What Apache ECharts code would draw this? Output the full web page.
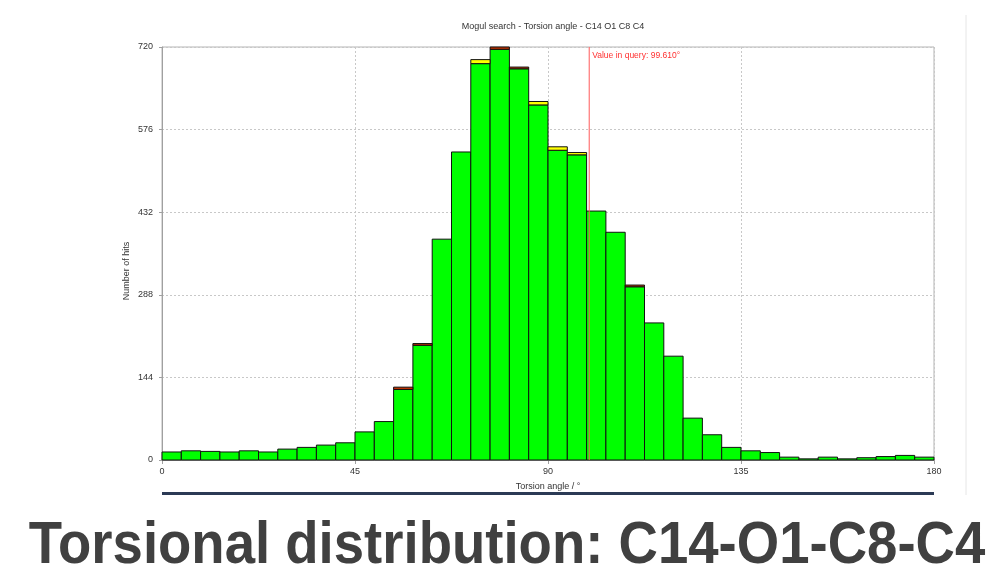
<!DOCTYPE html>
<html>
<head>
<meta charset="utf-8">
<script src="https://cdn.jsdelivr.net/npm/echarts@6/dist/echarts.min.js"></script>
<style>
html,body{margin:0;padding:0;background:#fff;}
#chart{width:991px;height:576px;}
</style>
</head>
<body>
<div id="chart"></div>
<script>
// ---- data ----
const titleText = 'Mogul search - Torsion angle - C14 O1 C8 C4';
const captionText = 'Torsional distribution: C14-O1-C8-C4';
const xAxisName = 'Torsion angle / °';
const yAxisName = 'Number of hits';
const binStart = 0;
const binWidth = 4.5;
// main (green) counts per 4.5° bin, 0..180
const greenCounts = [14, 16, 15, 14, 16, 14, 19, 22, 26, 30,
                     49, 67, 123, 200, 385, 537, 691, 716, 682, 619,
                     540, 532, 434, 397, 302, 239, 181, 73, 44, 22,
                     16, 13, 5, 2, 5, 2, 4, 6, 8, 5];
// thin dark-red caps
const redCounts =   [0, 0, 0, 0, 0, 0, 0, 0, 0, 0,
                     0, 0, 4, 3, 0, 0, 0, 4, 3, 0,
                     0, 0, 0, 0, 3, 0, 0, 0, 0, 0,
                     0, 0, 0, 0, 0, 0, 0, 0, 0, 0];
// thin yellow caps
const yellowCounts = [0, 0, 0, 0, 0, 0, 0, 0, 0, 0,
                      0, 0, 0, 0, 0, 0, 7, 0, 0, 6,
                      6, 4, 0, 0, 0, 0, 0, 0, 0, 0,
                      0, 0, 0, 0, 0, 0, 0, 0, 0, 0];
const queryValue = 99.610;
const yTicks = [0, 144, 288, 432, 576, 720];
const xTicks = [0, 45, 90, 135, 180];

// ---- build stacked rectangles ----
function buildLayer(vals, bases) {
  const out = [];
  vals.forEach((v, i) => {
    const x0 = binStart + i * binWidth;
    out.push([x0, x0 + binWidth, bases[i], bases[i] + v]);
  });
  return out;
}
const base0 = greenCounts.map(() => 0);
const base1 = greenCounts.slice();
const base2 = greenCounts.map((g, i) => g + redCounts[i]);
const greenData = buildLayer(greenCounts, base0);
const redData = buildLayer(redCounts, base1);
const yellowData = buildLayer(yellowCounts, base2);

function rectRenderer(fill) {
  return function (params, api) {
    const x0 = api.value(0), x1 = api.value(1), y0 = api.value(2), y1 = api.value(3);
    if (y1 <= y0) return null;
    const p0 = api.coord([x0, y0]);
    const p1 = api.coord([x1, y1]);
    return {
      type: 'rect',
      shape: { x: p0[0], y: p1[1], width: p1[0] - p0[0], height: p0[1] - p1[1] },
      style: { fill: fill, stroke: '#111', lineWidth: 1 }
    };
  };
}

const chart = echarts.init(document.getElementById('chart'), null, { renderer: 'canvas' });
const lblFont = { fontFamily: 'Liberation Sans', fontSize: 9, color: '#333' };
chart.setOption({
  animation: false,
  backgroundColor: '#fff',
  title: {
    text: titleText,
    left: 548, top: 17, textAlign: 'center',
    textStyle: { fontFamily: 'Liberation Sans', fontSize: 9, fontWeight: 'normal', color: '#333' }
  },
  grid: { left: 162, right: 57, top: 47, bottom: 116, show: true, borderColor: '#b4b4b4', borderWidth: 1, backgroundColor: 'transparent' },
  xAxis: {
    type: 'value', min: xTicks[0], max: xTicks[xTicks.length - 1], interval: 45,
    name: xAxisName, nameLocation: 'middle', nameGap: 22,
    nameTextStyle: lblFont,
    axisLine: { show: true, lineStyle: { color: '#a0a0a0' } },
    axisTick: { show: true, length: 4, lineStyle: { color: '#a0a0a0' } },
    axisLabel: Object.assign({ margin: 7 }, lblFont),
    splitLine: { show: true, lineStyle: { color: '#c8c8c8', type: [2, 2] } }
  },
  yAxis: {
    type: 'value', min: yTicks[0], max: yTicks[yTicks.length - 1], interval: 144,
    axisLine: { show: true, lineStyle: { color: '#a0a0a0' } },
    axisTick: { show: true, length: 3, lineStyle: { color: '#a0a0a0' } },
    axisLabel: Object.assign({ margin: 9 }, lblFont),
    splitLine: { show: true, lineStyle: { color: '#c8c8c8', type: [2, 2] } }
  },
  series: [
    { type: 'custom', renderItem: rectRenderer('#00ff00'), data: greenData, encode: { x: [0, 1], y: [2, 3] }, z: 2 },
    { type: 'custom', renderItem: rectRenderer('#c83200'), data: redData, encode: { x: [0, 1], y: [2, 3] }, z: 2 },
    { type: 'custom', renderItem: rectRenderer('#ffff00'), data: yellowData, encode: { x: [0, 1], y: [2, 3] }, z: 2 },
    {
      type: 'custom', z: 5,
      data: [[queryValue, yTicks[0], yTicks[yTicks.length - 1]]],
      encode: { x: 0, y: [1, 2] },
      renderItem: function (params, api) {
        const q = api.value(0);
        const pb = api.coord([q, api.value(1)]);
        const pt = api.coord([q, api.value(2)]);
        return {
          type: 'group',
          children: [
            { type: 'line', shape: { x1: pb[0], y1: pb[1], x2: pt[0], y2: pt[1] }, style: { stroke: '#ff5a5a', lineWidth: 1 } },
            { type: 'text', x: pt[0] + 3, y: pt[1] + 4, style: { text: 'Value in query: ' + q.toFixed(3) + '°', fill: '#ff3030', font: '8.5px "Liberation Sans"', textVerticalAlign: 'top' } }
          ]
        };
      }
    }
  ],
  graphic: [
    { type: 'text', x: 127, y: 271, rotation: Math.PI / 2, style: { text: yAxisName, fill: '#333', font: '9px "Liberation Sans"', textAlign: 'center', textVerticalAlign: 'middle' } },
    { type: 'rect', shape: { x: 162, y: 492, width: 772, height: 3 }, style: { fill: '#2b3a55' } },
    { type: 'line', shape: { x1: 966, y1: 15, x2: 966, y2: 495 }, style: { stroke: '#e6e6e6', lineWidth: 1 } },
    { type: 'text', x: 507, y: 547, scaleX: 1.01, scaleY: 1.08, style: { text: captionText, fill: '#404040', font: 'bold 54px "Liberation Sans"', textAlign: 'center', textVerticalAlign: 'middle' } }
  ]
});
</script>
</body>
</html>
